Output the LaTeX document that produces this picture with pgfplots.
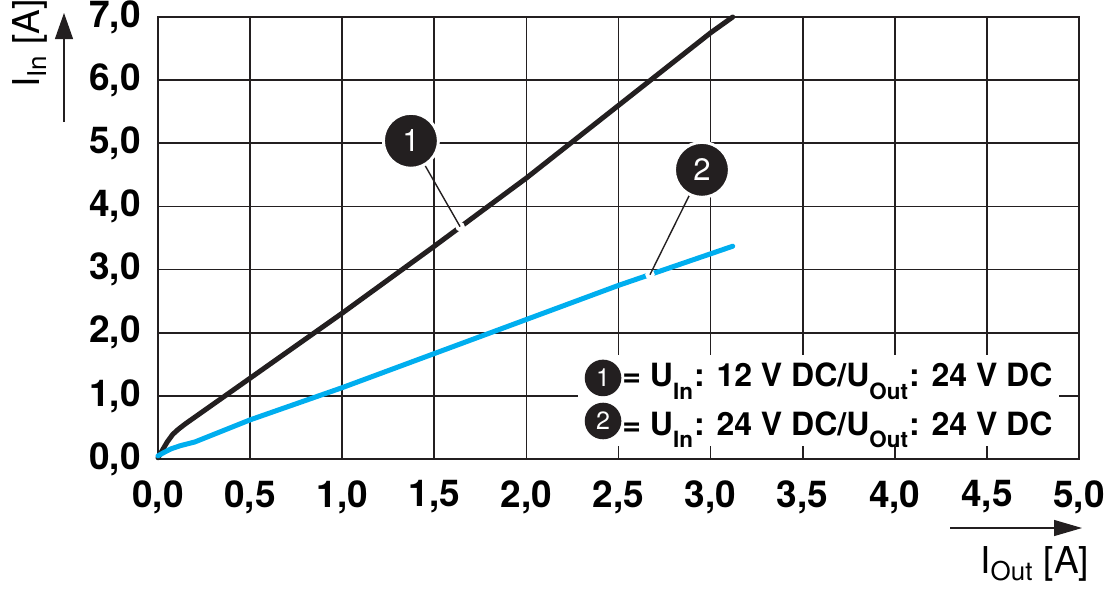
\documentclass[border=0pt]{standalone}
\usepackage{fontspec}
\setmainfont{TeX Gyre Heros}
\usepackage{pgfplots}
\pgfplotsset{compat=1.18}
\usetikzlibrary{arrows.meta}
\definecolor{curveblack}{RGB}{35,31,32}
\definecolor{curveblue}{RGB}{0,174,239}
\newcommand{\lowsub}[1]{\raisebox{-0.22em}{\textsubscript{#1}}}

\begin{document}
\begin{tikzpicture}
\path[use as bounding box] (-79pt,-66pt) rectangle (476.5pt,229.5pt);
\begin{axis}[
  at={(0,0)}, anchor=south west,
  scale only axis, width=460.5pt, height=221pt,
  xmin=0, xmax=5, ymin=0, ymax=7,
  xtick={0,0.5,1,1.5,2,2.5,3,3.5,4,4.5,5},
  ytick={0,1,2,3,4,5,6,7},
  grid=major,
  major grid style={draw=curveblack, line width=0.85pt},
  axis line style={draw=curveblack, line width=0.85pt},
  major tick length=0pt,
  tick label style={font=\fontsize{18.5}{20}\selectfont\bfseries, inner sep=0pt,
    /pgf/number format/fixed, /pgf/number format/fixed zerofill,
    /pgf/number format/precision=1, /pgf/number format/use comma,
    /pgf/number format/assume math mode=true},
  xticklabel style={/tikz/yshift=-10.5pt},
  yticklabel style={/tikz/xshift=-8.5pt},
  clip=false,
]
% curve 1: U_In 12 V
\addplot[curveblack, line width=2.5pt, line cap=round, line join=round] coordinates {
  (0,0.02) (0.02,0.12) (0.05,0.27) (0.08,0.39) (0.11,0.47) (0.15,0.56)
  (0.364,1.0) (1.0,2.31) (1.5,3.37) (2.0,4.45) (2.5,5.6) (3.0,6.75) (3.12,7.0)
};
% curve 2: U_In 24 V
\addplot[curveblue, line width=2.5pt, line cap=round, line join=round] coordinates {
  (0,0.05) (0.03,0.10) (0.07,0.16) (0.12,0.21) (0.2,0.27) (0.5,0.62)
  (1.0,1.13) (1.5,1.67) (2.0,2.21) (2.5,2.75) (3.0,3.25) (3.12,3.37)
};

% callouts
\fill[white] (axis cs:1.640,3.68) circle[radius=2.4pt];
\draw[curveblack, line width=0.7pt] (axis cs:1.373,5.04) -- (axis cs:1.640,3.68);
\node[circle, fill=curveblack, draw=white, line width=1.5pt, minimum size=27.5pt,
  inner sep=0pt, text=white, font=\fontsize{15.5}{17}\selectfont] at (axis cs:1.373,5.04) {1};

\fill[white] (axis cs:2.671,2.92) circle[radius=2.4pt];
\draw[curveblack, line width=0.7pt] (axis cs:2.953,4.58) -- (axis cs:2.671,2.92);
\node[circle, fill=curveblack, draw=white, line width=1.5pt, minimum size=27.5pt,
  inner sep=0pt, text=white, font=\fontsize{15.5}{17}\selectfont] at (axis cs:2.953,4.58) {2};

% legend box
\fill[white] (axis cs:2.28,0.206) rectangle (axis cs:4.89,1.648);
\node[circle, fill=curveblack, minimum size=18.3pt, inner sep=0pt, text=white,
  font=\fontsize{12.5}{14}\selectfont] at (axis cs:2.416,1.284) {1};
\node[anchor=base west, inner sep=0pt, font=\fontsize{16}{18}\selectfont\bfseries]
  at (axis cs:2.519,1.141) {= U\lowsub{In}: 12 V DC/U\lowsub{Out}: 24 V DC};
\node[circle, fill=curveblack, minimum size=18.3pt, inner sep=0pt, text=white,
  font=\fontsize{12.5}{14}\selectfont] at (axis cs:2.416,0.602) {2};
\node[anchor=base west, inner sep=0pt, font=\fontsize{16}{18}\selectfont\bfseries]
  at (axis cs:2.519,0.380) {= U\lowsub{In}: 24 V DC/U\lowsub{Out}: 24 V DC};
\end{axis}

% axis arrows and labels
\draw[curveblack, line width=0.6pt, -{Triangle[width=9pt,length=13pt]}] (-47pt,168.5pt) -- (-47pt,223pt);
\node[rotate=90, anchor=base west, inner sep=0pt, font=\fontsize{18.5}{20}\selectfont]
  at (-59pt,185.5pt) {I\textsubscript{In} [A]};
\draw[curveblack, line width=0.6pt, -{Triangle[width=8pt,length=14pt]}] (396pt,-34.5pt) -- (462pt,-34.5pt);
\node[anchor=base west, inner sep=0pt, font=\fontsize{18.5}{20}\selectfont]
  at (411pt,-57pt) {I\textsubscript{Out} [A]};
\end{tikzpicture}
\end{document}
